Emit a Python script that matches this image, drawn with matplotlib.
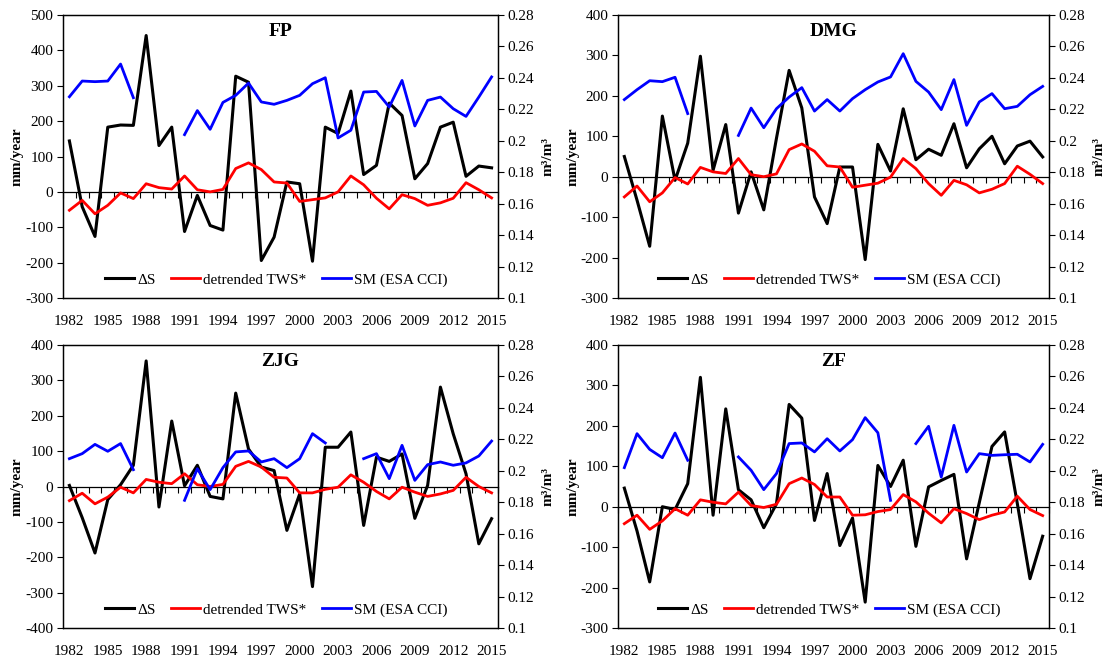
import numpy as np
import matplotlib
matplotlib.use("Agg")
import matplotlib.pyplot as plt

plt.rcParams['font.family'] = ['Liberation Serif', 'DejaVu Serif']
plt.rcParams['axes.unicode_minus'] = False

nan = np.nan
years = list(range(1982, 2016))
year_labels = years[::3]
titles = ["FP", "DMG", "ZJG", "ZF"]
legend_labels = ["ΔS", "detrended TWS*", "SM (ESA CCI)"]

ds_fp = [144, -42, -126, 183, 189, 188, 442, 131, 183, -112, -10, -95, -108, 327, 310, -194, -128,
         28, 23, -196, 183, 165, 285, 49, 75, 251, 216, 37, 80, 183, 197, 44, 73, 68]
tws_fp = [-52, -24, -62, -38, -3, -19, 23, 12, 8, 45, 6, 0, 7, 66, 82, 63, 28,
          25, -27, -22, -17, 0, 45, 20, -18, -48, -8, -19, -38, -31, -18, 26, 6, -17]
sm_fp = [0.228, 0.238, 0.2376, 0.238, 0.2488, 0.2274, nan, nan, nan, 0.2039, 0.2192, 0.2073, 0.2244,
         0.2289, 0.2367, 0.2247, 0.2232, 0.2257, 0.2289, 0.2363, 0.2401, 0.2018, 0.2067, 0.231, 0.2314,
         0.2215, 0.2384, 0.2094, 0.2257, 0.2278, 0.2204, 0.2155, 0.2278, 0.2406]

ds_dmg = [50, -58, -172, 150, -9, 83, 298, 16, 129, -90, 12, -82, 95, 263, 170, -50, -116,
          24, 24, -205, 80, 14, 168, 42, 68, 53, 131, 22, 69, 100, 32, 76, 88, 49]
tws_dmg = [-50, -23, -62, -40, -2, -18, 23, 12, 8, 45, 5, 0, 7, 67, 81, 63, 27,
           24, -26, -21, -16, -1, 45, 20, -17, -46, -9, -20, -40, -31, -17, 26, 6, -17]
sm_dmg = [0.2262, 0.2325, 0.2382, 0.2376, 0.2404, 0.2173, nan, nan, nan, 0.2034, 0.2208, 0.2083, 0.2204,
          0.2278, 0.2338, 0.2189, 0.2262, 0.2189, 0.2268, 0.2325, 0.2374, 0.2406, 0.2554, 0.2378, 0.2310,
          0.2198, 0.2389, 0.2098, 0.2247, 0.23, 0.2204, 0.2219, 0.2293, 0.2346]

ds_zjg = [3, -88, -188, -37, 5, 60, 355, -58, 185, 2, 60, -28, -35, 264, 106, 55, 45,
          -124, -21, -283, 111, 111, 154, -110, 83, 71, 92, -90, 3, 281, 149, 36, -162, -91]
tws_zjg = [-40, -19, -49, -30, -2, -18, 20, 12, 8, 36, 5, 0, 6, 57, 71, 55, 26,
           24, -18, -18, -8, -2, 33, 12, -14, -35, -2, -16, -28, -21, -11, 26, 0, -18]
sm_zjg = [0.2077, 0.2109, 0.2168, 0.2124, 0.2173, 0.2007, nan, nan, nan, 0.1812, 0.2013, 0.188, 0.202,
          0.2120, 0.2126, 0.2056, 0.2077, 0.202, 0.2077, 0.2236, 0.2177, nan, nan, 0.2077, 0.2109,
          0.195, 0.2162, 0.1939, 0.2039, 0.2056, 0.2035, 0.2050, 0.2094, 0.2189]

ds_zf = [46, -60, -186, 0, -7, 57, 320, -21, 242, 42, 17, -52, 7, 253, 219, -34, 82,
         -96, -28, -236, 102, 50, 115, -98, 49, 65, 80, -129, 10, 149, 185, 8, -178, -73]
tws_zf = [-42, -21, -56, -35, -5, -21, 17, 11, 7, 36, 3, -2, 6, 57, 71, 55, 24,
          24, -21, -20, -12, -7, 30, 12, -16, -40, -5, -17, -32, -21, -13, 26, -7, -22]
sm_zf = [0.202, 0.2236, 0.2136, 0.2083, 0.2240, 0.2067, nan, nan, nan, 0.2088, 0.2003, 0.188, 0.1982,
         0.2173, 0.2177, 0.212, 0.2204, 0.2126, 0.2198, 0.2338, 0.2242, 0.1812, nan, 0.2173, 0.2283,
         0.196, 0.2289, 0.1992, 0.2109, 0.2098, 0.2102, 0.2105, 0.2056, 0.2168]

panels = [
    (titles[0], ds_fp, tws_fp, sm_fp, (-300, 500)),
    (titles[1], ds_dmg, tws_dmg, sm_dmg, (-300, 400)),
    (titles[2], ds_zjg, tws_zjg, sm_zjg, (-400, 400)),
    (titles[3], ds_zf, tws_zf, sm_zf, (-300, 400)),
]

W, H = 1115, 664
fig = plt.figure(figsize=(W / 100, H / 100), dpi=100)
boxes = [(63, 15, 435, 283), (618, 15, 431, 283), (63, 345, 435, 283), (618, 345, 431, 283)]

FS = 11
sm_ticks = np.round(np.arange(0.1, 0.2801, 0.02), 2)
for (title, ds, tws, sm, ylim), (bx, by, bw, bh) in zip(panels, boxes):
    ax = fig.add_axes([bx / W, 1 - (by + bh) / H, bw / W, bh / H])
    ax2 = ax.twinx()
    l1, = ax.plot(years, ds, color='black', lw=2.2)
    l2, = ax.plot(years, tws, color='#ff0000', lw=2.0)
    l3, = ax2.plot(years, sm, color='#0000ff', lw=2.0)

    ax.set_xlim(years[0] - 0.5, years[-1] + 0.5)
    ax.set_ylim(*ylim)
    ax.set_yticks(np.arange(ylim[0], ylim[1] + 1, 100))
    ax2.set_ylim(0.1, 0.28)
    ax2.set_yticks(sm_ticks)
    ax2.set_yticklabels([f"{v:g}" for v in sm_ticks])

    ax.set_xticks(year_labels)
    ax.set_xticklabels([str(y) for y in year_labels])
    ax.tick_params(axis='x', length=0, pad=12, labelsize=FS)
    ax.tick_params(axis='y', direction='out', length=4, width=0.8, pad=3, labelsize=FS)
    ax2.tick_params(axis='y', direction='out', length=4, width=0.8, pad=3, labelsize=FS)

    for a in (ax, ax2):
        for s in a.spines.values():
            s.set_linewidth(0.9)
            s.set_color('black')

    # zero line with category tick marks
    sec = ax.secondary_xaxis(0, transform=ax.transData)
    sec.set_xticks(np.arange(years[0] - 0.5, years[-1] + 0.6, 1))
    sec.tick_params(axis='x', direction='out', length=4, width=0.8, labelbottom=False, labeltop=False)
    sec.spines['bottom'].set_linewidth(0.9)

    ax.set_ylabel("mm/year", fontsize=FS, fontweight='bold')
    ax.yaxis.set_label_coords(-0.09, 0.5)
    ax2.set_ylabel("m³/m³", fontsize=FS, fontweight='bold')
    ax2.yaxis.set_label_coords(1.10, 0.5)

    ax.text(0.5, 0.94, title, transform=ax.transAxes, ha='center', va='center',
            fontsize=14, fontweight='bold')

    ax2.legend([l1, l2, l3], legend_labels, loc='center', bbox_to_anchor=(0.49, 0.064),
               ncol=3, frameon=False, fontsize=FS, handlelength=1.9, handletextpad=0.2,
               columnspacing=1.0, borderpad=0.2)

fig.savefig("out.png", dpi=100)
